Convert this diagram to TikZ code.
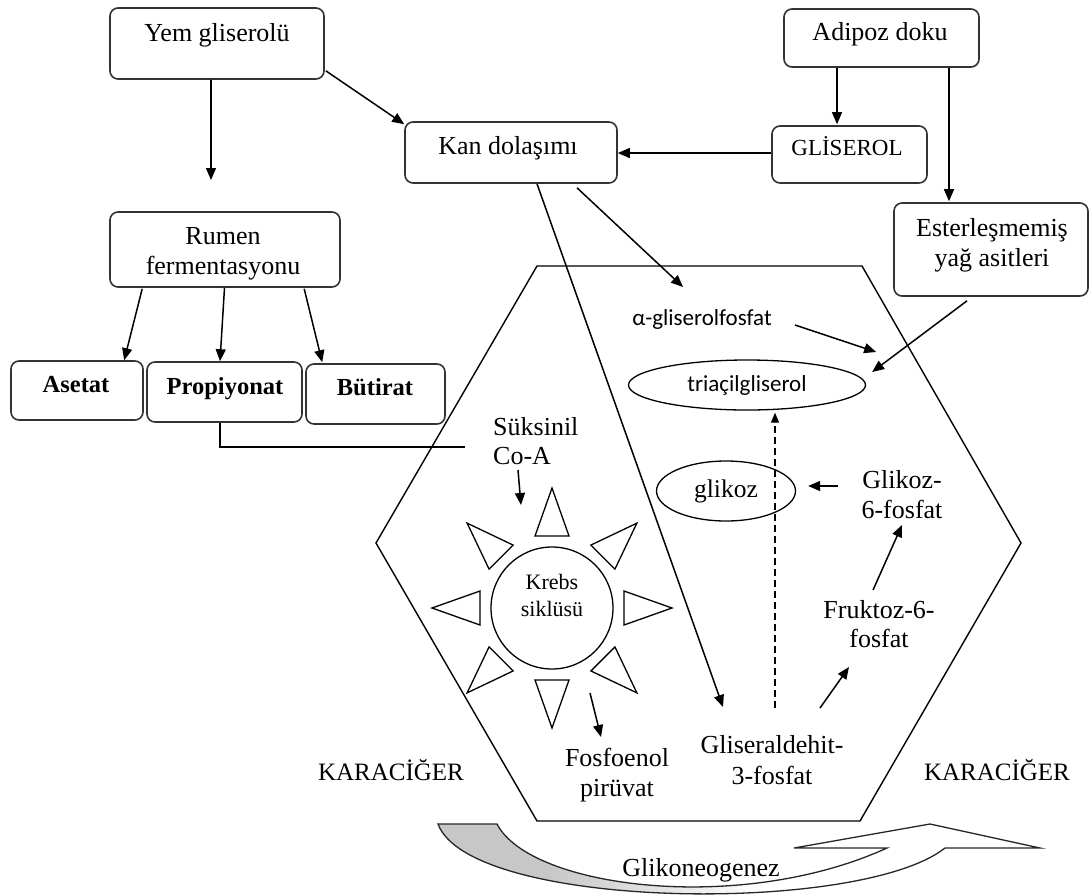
\documentclass[tikz,border=0pt]{standalone}
\usepackage{fontspec}
\setmainfont{Liberation Serif}
\newfontfamily\calib{Carlito}
\usetikzlibrary{arrows.meta,shapes.geometric,calc}

% grey-to-white fade for the gluconeogenesis arrow
\pgfdeclarehorizontalshading{glkfade}{100bp}{color(0bp)=(black!22); color(34bp)=(black!22); color(52bp)=(white); color(100bp)=(white)}

\begin{document}
\begin{tikzpicture}[x=1pt,y=-1pt,
  box/.style={draw=black!80,line width=1.6pt,rounded corners=8pt,inner sep=0pt},
  txt/.style={font=\fontsize{26}{30}\selectfont,align=center,anchor=base,inner sep=0pt},
  acid/.style={font=\fontsize{24.5}{28}\selectfont\bfseries,anchor=base,inner sep=0pt},
  sans/.style={font=\calib\fontsize{23}{27}\selectfont,inner sep=0pt},
  arr/.style={line width=1.5pt,-{Triangle[length=12pt,width=10pt]}},
  ln/.style={line width=1.4pt},
  oval/.style={draw,ellipse,line width=1.3pt,inner sep=0pt},
  ray/.style={draw,line width=1.3pt,line join=miter}
]
\useasboundingbox (0,0) rectangle (1090,895);
\fill[white] (0,0) rectangle (1090,895);

% liver compartment
\draw[ln] (537,266) -- (862,266) -- (1021,543) -- (860,821) -- (537,821) -- (376,543) -- cycle;

% boxes (multi-line labels are placed by their last baseline)
\node[box,minimum width=214pt,minimum height=71pt] (yem) at (217,43.5) {};
\node[txt] (yemt) at (217,41) {Yem gliserolü};
\node[box,minimum width=212pt,minimum height=61pt] (kan) at (511,152.5) {};
\node[txt] (kant) at (508,154) {Kan dolaşımı};
\node[box,minimum width=230pt,minimum height=75pt] (rumen) at (225,249.5) {};
\node[txt] (rument) at (223,274) {Rumen\\fermentasyonu};
\node[box,minimum width=132pt,minimum height=59pt] (asetat) at (77,390.5) {};
\node[acid] (asetatt) at (76,392) {Asetat};
\node[box,minimum width=155pt,minimum height=60pt] (prop) at (224.5,392) {};
\node[acid] (propt) at (225,394) {Propiyonat};
\node[box,minimum width=139pt,minimum height=60pt] (but) at (375.5,394) {};
\node[acid] (butt) at (375,395) {Bütirat};
\node[box,minimum width=195pt,minimum height=58pt] (adipoz) at (881.5,38) {};
\node[txt] (adipozt) at (880,40) {Adipoz doku};
\node[box,minimum width=155pt,minimum height=57pt] (gliserol) at (849.5,154.5) {};
\node[txt,font=\fontsize{23}{27}\selectfont] (gliserolt) at (847,155) {GLİSEROL};
\node[box,minimum width=194pt,minimum height=93pt] (ester) at (991,249.5) {};
\node[txt] (estert) at (992,266) {Esterleşmemiş\\yağ asitleri};

% liver contents
\node[sans,anchor=base] (agf) at (702,325) {α-gliserolfosfat};
\node[oval,minimum width=237pt,minimum height=50pt,sans] (tag) at (747,385) {triaçilgliserol};
\node[oval,minimum width=139pt,minimum height=60pt,font=\fontsize{25.5}{30}\selectfont] (gk) at (726,491) {glikoz};
\node[txt,align=left,anchor=base west,font=\fontsize{26}{29}\selectfont] (suk) at (493,464) {Süksinil\\Co-A};
\node[txt] (g6p) at (902,518) {Glikoz-\\6-fosfat};
\node[txt,font=\fontsize{26}{29}\selectfont] (f6p) at (879,647) {Fruktoz-6-\\fosfat};
\node[txt,font=\fontsize{26}{31}\selectfont] (g3p) at (772,784) {Gliseraldehit-\\3-fosfat};
\node[txt] (pep) at (617,796) {Fosfoenol\\pirüvat};
\node[txt,font=\fontsize{25}{30}\selectfont] (kcl) at (391,780) {KARACİĞER};
\node[txt,font=\fontsize{25}{30}\selectfont] (kcr) at (997,780) {KARACİĞER};

% Krebs cycle with its rays
\node[circle,draw,line width=1.3pt,minimum size=122pt,inner sep=0pt] (krebs) at (552,608) {};
\node[txt,font=\fontsize{22}{27}\selectfont] (krebst) at (552,616) {Krebs\\siklüsü};
\foreach \a in {0,45,...,315}
  \draw[ray,shift={(krebs.center)},rotate=\a] (72,-17) -- (120,0) -- (72,17) -- cycle;

% connector end points beside text labels
\coordinate (yemend) at (211,180);
\coordinate (sukin) at (465,447);
\coordinate (agfin) at (683,287);
\coordinate (agfout) at (795,325);
\coordinate (coaout) at (518,470);
\coordinate (krin) at (521,505);
\coordinate (krout) at (590,693);
\coordinate (pepin) at (601,737);
\coordinate (g3pin) at (723,707);
\coordinate (g3pout) at (820,708);
\coordinate (g3pup) at (775,708);
\coordinate (f6pin) at (849,667);
\coordinate (f6pout) at (873,590);
\coordinate (g6pin) at (902,525);
\coordinate (g6pout) at (838,486);

% connectors
\draw[arr] (yem.south -| yemend) -- (yemend);
\draw[arr] ($(yem.south east)+(1,-9)$) -- ($(kan.north west)+(0,3)$);
\draw[arr] ($(rumen.south west)+(33,1)$) -- ($(asetat.north west)+(114,0)$);
\draw[arr] (rumen.south -| prop.north) -- ($(prop.north)+(-4.5,0)$);
\draw[arr] ($(rumen.south west)+(195,1)$) -- ($(but.north west)+(17,-1)$);
\draw[ln] ($(prop.south)+(-4.5,0)$) |- (sukin);
\draw[arr] (gliserol.west |- 0,153) -- (kan.east |- 0,153);
\draw[arr] (adipoz.south -| 837,0) -- ($(gliserol.north -| 837,0)+(0,-1)$);
\draw[arr] (adipoz.south -| 949,0) -- ($(ester.north -| 949,0)+(0,-1)$);
\draw[arr] (kan.south -| 537,0) -- (g3pin);
\draw[arr] ($(kan.south)+(66,4)$) -- (agfin);
\draw[arr] (agfout) -- ($(tag.east)+(10,-33)$);
\draw[arr] ($(ester.south)+(-24,4)$) -- ($(tag.east)+(6,-13)$);
\draw[arr] (coaout) -- (krin);
\draw[arr] (krout) -- (pepin);
\draw[arr] (g6pout) -- ($(gk.east)+(12,-5)$);
\draw[arr] (f6pout) -- (g6pin);
\draw[arr] (g3pout) -- (f6pin);
\draw[line width=1.3pt,dash pattern=on 7pt off 4pt,-{Triangle[length=10pt,width=8pt]}] (g3pup) -- ($(tag.south -| g3pup)+(0,2)$);

% gluconeogenesis arrow
\shadedraw[shading=glkfade,draw=black!85,line width=1.3pt,line join=miter]
  (438,824) -- (497,824) .. controls (530,888) and (740,915) .. (887,848)
  -- (794,848) -- (930,824) -- (1040,848) -- (945,848)
  .. controls (860,915) and (470,910) .. (438,824) -- cycle;
\node[txt] (glk) at (701,876) {Glikoneogenez};
\end{tikzpicture}
\end{document}
